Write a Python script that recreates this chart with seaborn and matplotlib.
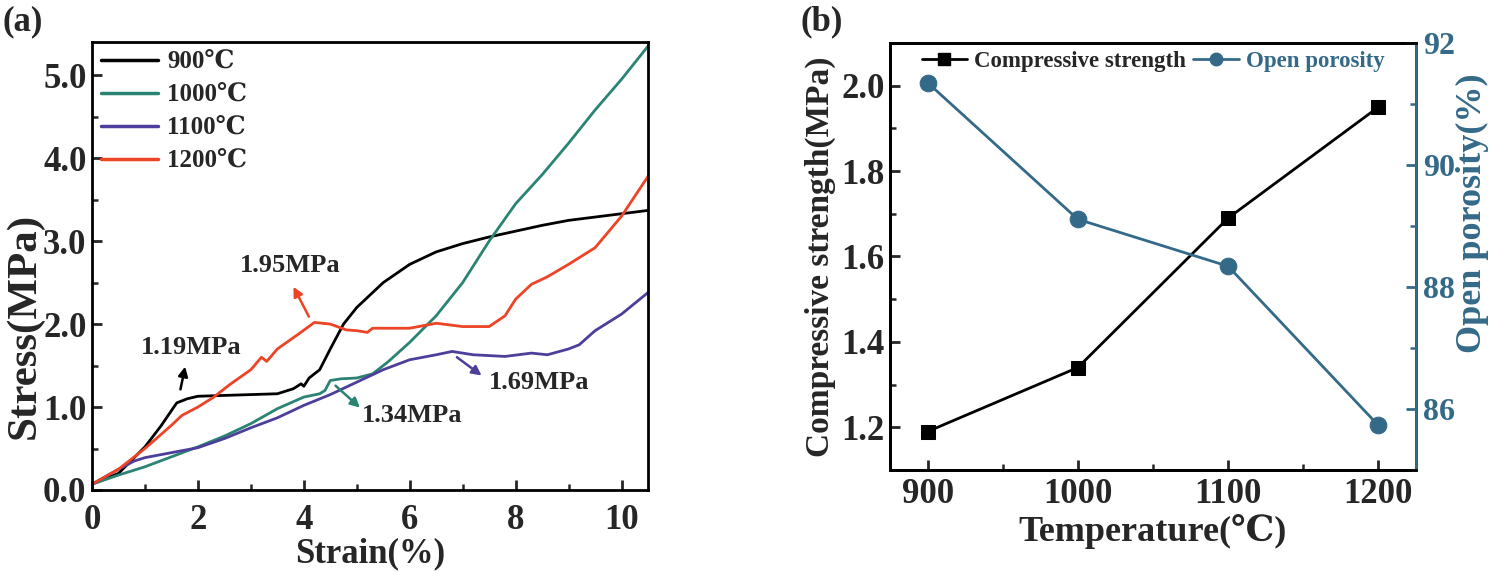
import numpy as np
import pandas as pd
import seaborn as sns
import matplotlib
matplotlib.use("Agg")
import matplotlib.pyplot as plt
from matplotlib.ticker import MultipleLocator, FormatStrFormatter
from matplotlib.lines import Line2D

# ---------------- data: panel (a) stress-strain curves ----------------
strain_900 = [0, 0.5, 1.0, 1.3, 1.6, 1.8, 2.0, 2.5, 3.0, 3.5, 3.8, 3.95, 4.0, 4.1, 4.3, 4.5,
              4.75, 5.0, 5.5, 6.0, 6.5, 7.0, 7.5, 8.0, 8.5, 9.0, 9.5, 10.0, 10.5]
stress_900 = [0.07, 0.2, 0.52, 0.77, 1.05, 1.1, 1.13, 1.14, 1.15, 1.16, 1.22, 1.28, 1.25, 1.35,
              1.45, 1.7, 2.0, 2.2, 2.5, 2.72, 2.87, 2.97, 3.05, 3.12, 3.19, 3.25, 3.29, 3.33, 3.37]

strain_1000 = [0, 0.5, 1.0, 1.5, 2.0, 2.5, 3.0, 3.5, 4.0, 4.3, 4.4, 4.5, 4.7, 5.0, 5.3, 5.6,
               6.0, 6.5, 7.0, 7.5, 8.0, 8.5, 9.0, 9.5, 10.0, 10.5]
stress_1000 = [0.07, 0.18, 0.28, 0.4, 0.52, 0.65, 0.8, 0.98, 1.12, 1.16, 1.2, 1.32, 1.34, 1.35,
               1.4, 1.55, 1.78, 2.1, 2.5, 3.0, 3.45, 3.8, 4.18, 4.58, 4.95, 5.35]

strain_1100 = [0, 0.5, 0.8, 1.0, 1.5, 2.0, 2.5, 3.0, 3.5, 4.0, 4.5, 5.0, 5.5, 6.0, 6.5, 6.8,
               7.2, 7.8, 8.3, 8.6, 9.0, 9.2, 9.5, 10.0, 10.5]
stress_1100 = [0.07, 0.25, 0.35, 0.39, 0.45, 0.51, 0.62, 0.75, 0.87, 1.02, 1.15, 1.3, 1.45, 1.57,
               1.63, 1.67, 1.63, 1.61, 1.65, 1.63, 1.7, 1.75, 1.92, 2.12, 2.38]

strain_1200 = [0, 0.5, 1.0, 1.5, 1.7, 2.0, 2.3, 2.6, 3.0, 3.2, 3.3, 3.5, 3.9, 4.2, 4.5, 4.8,
               5.0, 5.2, 5.3, 6.0, 6.5, 7.0, 7.5, 7.8, 8.0, 8.3, 8.6, 9.0, 9.5, 10.0, 10.5]
stress_1200 = [0.07, 0.25, 0.5, 0.78, 0.9, 1.0, 1.12, 1.27, 1.45, 1.6, 1.55, 1.7, 1.88, 2.02,
               2.0, 1.93, 1.92, 1.9, 1.95, 1.95, 2.01, 1.97, 1.97, 2.1, 2.3, 2.48, 2.57, 2.72,
               2.92, 3.3, 3.78]

series_labels = ["900℃", "1000℃", "1100℃", "1200℃"]

# ---------------- data: panel (b) ----------------
temperature = [900, 1000, 1100, 1200]
compressive_strength = [1.19, 1.34, 1.69, 1.95]
open_porosity = [91.35, 89.11, 88.34, 85.73]

# ---------------- style ----------------
sns.set_theme(style="white")
plt.rcParams["font.family"] = ["Liberation Serif", "DejaVu Serif"]
plt.rcParams["font.weight"] = "bold"
plt.rcParams["axes.labelweight"] = "bold"
plt.rcParams["mathtext.default"] = "regular"

colors = ["#000000", "#2a8373", "#4c3f9c", "#ec4424"]
por_color = "#346a88"

fig = plt.figure(figsize=(14.89, 5.71), dpi=100)
ax1 = fig.add_axes([92 / 1489, (571 - 490) / 571, (648 - 92) / 1489, (490 - 42) / 571])
ax2 = fig.add_axes([890 / 1489, (571 - 470) / 571, (1416 - 890) / 1489, (470 - 43) / 571])

# ---------------- panel (a) ----------------
frames = []
for lab, xs, ys in zip(series_labels,
                       [strain_900, strain_1000, strain_1100, strain_1200],
                       [stress_900, stress_1000, stress_1100, stress_1200]):
    frames.append(pd.DataFrame({"Strain": xs, "Stress": ys, "T": lab}))
df_a = pd.concat(frames, ignore_index=True)

sns.lineplot(data=df_a, x="Strain", y="Stress", hue="T", hue_order=series_labels,
             palette=dict(zip(series_labels, colors)), sort=False, estimator=None,
             linewidth=2.0, legend=False, ax=ax1)

ax1.set_xlim(0, 10.5)
ax1.set_ylim(0, 5.4)
ax1.xaxis.set_major_locator(MultipleLocator(2))
ax1.xaxis.set_minor_locator(MultipleLocator(1))
ax1.yaxis.set_major_locator(MultipleLocator(1))
ax1.yaxis.set_minor_locator(MultipleLocator(0.5))
ax1.yaxis.set_major_formatter(FormatStrFormatter("%.1f"))
ax1.set_xlabel("Strain(%)", fontsize=25, fontweight="bold", labelpad=0)
ax1.set_ylabel("Stress(MPa)", fontsize=31, fontweight="bold")
ax1.yaxis.set_label_coords((44 - 92) / 556, (490 - 326) / 448)

handles = [Line2D([], [], color=c, lw=2.5) for c in colors]
ax1.legend(handles, series_labels, loc="upper left", frameon=False,
           handlelength=2.3, handletextpad=0.35, labelspacing=0.4,
           borderaxespad=0.15, borderpad=0.2, prop={"weight": "bold", "size": 18})

ann = [("1.19MPa", (1.66, 1.18), (1.77, 1.52), (1.87, 1.72), colors[0]),
       ("1.95MPa", (4.12, 2.06), (3.78, 2.48), (3.75, 2.71), colors[3]),
       ("1.34MPa", (4.56, 1.28), (5.1, 0.97), (6.05, 0.9), colors[1]),
       ("1.69MPa", (6.85, 1.62), (7.4, 1.36), (8.45, 1.29), colors[2])]
for txt, tail, head, tpos, col in ann:
    ax1.annotate("", xy=head, xytext=tail,
                 arrowprops=dict(arrowstyle="-|>", color=col, lw=1.8, mutation_scale=14))
    ax1.text(tpos[0], tpos[1], txt, fontsize=19, fontweight="bold", ha="center", va="center")

# ---------------- panel (b) ----------------
df_b = pd.DataFrame({"Temperature": temperature, "Strength": compressive_strength,
                     "Porosity": open_porosity})
sns.lineplot(data=df_b, x="Temperature", y="Strength", color="black", marker="s",
             markersize=10, markeredgecolor="black", linewidth=2.0, ax=ax2, legend=False)
ax3 = ax2.twinx()
sns.lineplot(data=df_b, x="Temperature", y="Porosity", color=por_color, marker="o",
             markersize=12, markeredgecolor=por_color, linewidth=2.0, ax=ax3, legend=False)

ax2.set_xlim(875, 1225)
ax2.set_ylim(1.1, 2.1)
ax3.set_ylim(85, 92)
ax2.xaxis.set_major_locator(MultipleLocator(100))
ax2.xaxis.set_minor_locator(MultipleLocator(50))
ax2.yaxis.set_major_locator(MultipleLocator(0.2))
ax2.yaxis.set_minor_locator(MultipleLocator(0.1))
ax2.yaxis.set_major_formatter(FormatStrFormatter("%.1f"))
ax3.yaxis.set_major_locator(MultipleLocator(2))
ax3.yaxis.set_minor_locator(MultipleLocator(1))
ax2.set_xlabel("Temperature(℃)", fontsize=26, fontweight="bold", labelpad=2)
ax2.set_ylabel("Compressive strength(MPa)", fontsize=24, fontweight="bold", labelpad=4)
ax3.set_ylabel("Open porosity(%)", fontsize=26, fontweight="bold", color=por_color)
ax3.yaxis.set_label_coords((1456 - 1416) / 526 + 1.0, (470 - 213) / 427)

h1 = Line2D([], [], color="black", marker="s", markersize=8, lw=2.0)
h2 = Line2D([], [], color=por_color, marker="o", markersize=9, lw=2.0)
leg = ax2.legend([h1, h2], ["Compressive strength", "Open porosity"], loc="upper center",
                 ncol=2, frameon=False, handlelength=2.0, handletextpad=0.3,
                 columnspacing=0.3, bbox_to_anchor=(0.5, 1.02), borderpad=0.2,
                 prop={"weight": "bold", "size": 16.5})
leg.get_texts()[1].set_color(por_color)

# ---------------- common axis styling ----------------
for ax in (ax1, ax2, ax3):
    for s in ax.spines.values():
        s.set_linewidth(2.0)
        s.set_color("black")
    ax.tick_params(which="major", direction="in", length=7, width=2.0, labelsize=25, pad=4)
    ax.tick_params(which="minor", direction="in", length=4, width=1.8)
    for lbl in ax.get_xticklabels() + ax.get_yticklabels():
        lbl.set_fontweight("bold")

for ax in (ax1, ax2):
    ax.tick_params(which="both", bottom=True, left=True, top=False, right=False)
ax1.tick_params(axis="x", which="major", pad=10)
ax2.tick_params(axis="x", which="major", pad=6)
ax3.tick_params(axis="y", which="major", pad=5, labelsize=23)

ax3.spines["right"].set_color(por_color)
ax3.tick_params(which="both", axis="y", right=True, colors=por_color)
for lbl in ax3.get_yticklabels():
    lbl.set_color(por_color)
    lbl.set_fontweight("bold")

fig.text(2 / 1489, 1 - 22 / 571, "(a)", fontsize=25, fontweight="bold", va="center", ha="left")
fig.text(800 / 1489, 1 - 22 / 571, "(b)", fontsize=25, fontweight="bold", va="center", ha="left")

fig.savefig("out.png", dpi=100)
